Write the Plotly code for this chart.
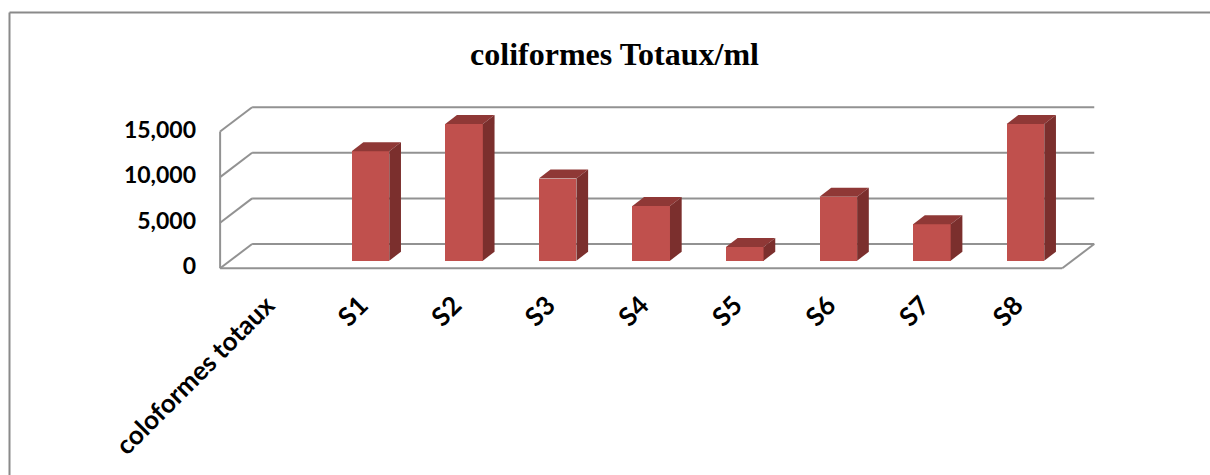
import plotly.graph_objects as go

# ---- data -------------------------------------------------------------
categories = ["coloformes totaux", "S1", "S2", "S3", "S4", "S5", "S6", "S7", "S8"]
counts = [None, 12000, 15000, 9000, 6000, 1500, 7000, 4000, 15000]
y_ticks = [0, 5000, 10000, 15000]
title_text = "coliformes Totaux/ml"

# ---- geometry (pixels) ------------------------------------------------
W, H = 1210, 475
PL, PR, PT, PB = 215, 1100, 100, 272      # plot area edges
X_UNIT = 93.57                            # px per category step
Y_UNIT = 0.00912                          # px per count
X0_PX = 266.9                             # category 0 on the front plane
Y0_PX = 268.3                             # value 0 on the front plane

x_range = [(PL - X0_PX) / X_UNIT, (PR - X0_PX) / X_UNIT]
y_range = [(Y0_PX - PB) / Y_UNIT, (Y0_PX - PT) / Y_UNIT]


def depth(dx_px, dy_px):
    """Perspective offset (px to the right, px upward) in data units."""
    return dx_px / X_UNIT, dy_px / Y_UNIT


WALL_DX, WALL_DY = depth(32, 24.3)    # front edge -> back wall
BAR_DX, BAR_DY = depth(10, 7.6)       # front edge -> bar front faces
SIDE_DX, SIDE_DY = depth(11.7, 9)     # bar depth
BAR_W = 37.6 / X_UNIT

FRONT = "#C0504D"
TOP = "#8F3836"
SIDE = "#7B2F2D"
GRID = "#929292"
BORDER = "#8A8A8A"

fig = go.Figure()

# ---- walls, floor and gridlines (drawn beneath the bars) ---------------
x_left = -0.5
x_right = len(categories) - 0.5
shapes = []


def seg(x0, y0, x1, y1, color=GRID, width=2, ref="data"):
    if ref == "data":
        return dict(type="line", xref="x", yref="y", x0=x0, y0=y0, x1=x1, y1=y1,
                    line=dict(color=color, width=width), layer="below")
    return dict(type="line", xref="paper", yref="paper", x0=x0, y0=y0, x1=x1, y1=y1,
                line=dict(color=color, width=width), layer="below")


for v in y_ticks:
    # back wall gridline
    shapes.append(seg(x_left + WALL_DX, v + WALL_DY, x_right + WALL_DX, v + WALL_DY))
    # left wall diagonal
    shapes.append(seg(x_left, v, x_left + WALL_DX, v + WALL_DY))
# left wall front edge
shapes.append(seg(x_left, y_ticks[0], x_left, y_ticks[-1]))
# floor front and right edges
shapes.append(seg(x_left, 0, x_right, 0))
shapes.append(seg(x_right, 0, x_right + WALL_DX, WALL_DY))


# chart frame
def px_x(p):
    return (p - PL) / (PR - PL)


def px_y(p):
    return (PB - p) / (PB - PT)


shapes.append(seg(px_x(9.5), px_y(12.5), px_x(1215), px_y(12.5), BORDER, 2, "paper"))
shapes.append(seg(px_x(9.5), px_y(12.5), px_x(9.5), px_y(480), BORDER, 2, "paper"))

# ---- bars -------------------------------------------------------------
bar_x = [i + BAR_DX for i in range(len(categories))]
fig.add_trace(go.Bar(
    x=bar_x, y=counts, base=BAR_DY, width=BAR_W,
    marker=dict(color=FRONT, line=dict(width=0)),
    hoverinfo="skip", showlegend=False,
))

for xc, v in zip(bar_x, counts):
    if v is None:
        continue
    xl, xr = xc - BAR_W / 2, xc + BAR_W / 2
    top = BAR_DY + v
    # top face
    fig.add_trace(go.Scatter(
        x=[xl, xr, xr + SIDE_DX, xl + SIDE_DX, xl],
        y=[top, top, top + SIDE_DY, top + SIDE_DY, top],
        fill="toself", fillcolor=TOP, mode="lines", line=dict(width=0, color=TOP),
        hoverinfo="skip", showlegend=False,
    ))
    # right side face
    fig.add_trace(go.Scatter(
        x=[xr, xr, xr + SIDE_DX, xr + SIDE_DX, xr],
        y=[BAR_DY, top, top + SIDE_DY, BAR_DY + SIDE_DY, BAR_DY],
        fill="toself", fillcolor=SIDE, mode="lines", line=dict(width=0, color=SIDE),
        hoverinfo="skip", showlegend=False,
    ))

x_font = dict(family="Lato", size=26, color="black", weight="bold")
y_font = dict(family="Lato", size=23, color="black", weight="bold")

fig.update_layout(
    width=W, height=H,
    margin=dict(l=PL, r=W - PR, t=PT, b=H - PB, pad=0),
    paper_bgcolor="white", plot_bgcolor="white",
    title=dict(
        text=title_text, x=614.5 / W, xref="container", xanchor="center",
        y=1 - 54 / H, yref="container", yanchor="middle",
        font=dict(family="Liberation Serif", size=32, color="black", weight="bold"),
    ),
    xaxis=dict(
        range=x_range, tickmode="array", tickvals=list(range(len(categories))),
        ticktext=categories, tickangle=-45, showgrid=False, zeroline=False,
        showline=False, ticks="", tickfont=x_font, ticklabelstandoff=12,
    ),
    yaxis=dict(
        range=y_range, tickmode="array", tickvals=y_ticks, tickformat=",d",
        showgrid=False, zeroline=False, showline=False, ticks="",
        tickfont=y_font, ticklabelstandoff=18, ticklabelshift=-2,
    ),
    shapes=shapes,
    bargap=0,
)

fig.write_html("out.html")
